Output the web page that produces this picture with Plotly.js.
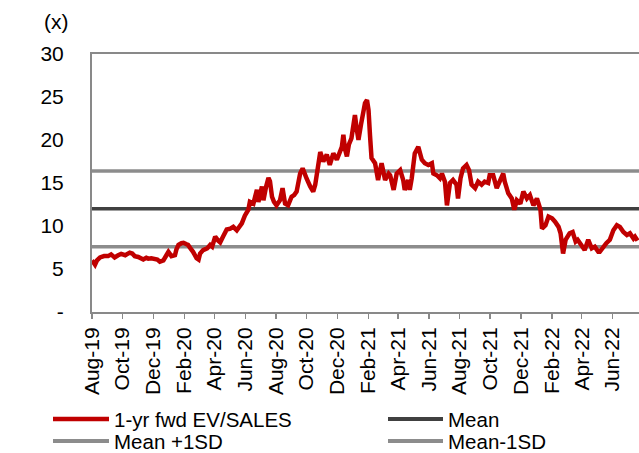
<!DOCTYPE html>
<html>
<head>
<meta charset="utf-8">
<script src="https://cdn.plot.ly/plotly-3.0.1.min.js"></script>
<style>html,body{margin:0;padding:0;background:#fff}#chart{width:639px;height:453px}</style>
</head>
<body>
<div id="chart"></div>
<script>
var dates = ['2019-08-01','2019-08-07','2019-08-11','2019-08-17','2019-08-25','2019-09-02','2019-09-08','2019-09-15','2019-09-22','2019-09-28',
'2019-10-06','2019-10-15','2019-10-20','2019-10-25','2019-11-01','2019-11-07','2019-11-11','2019-11-17','2019-11-21','2019-11-27',
'2019-12-04','2019-12-09','2019-12-14','2019-12-21','2019-12-27','2019-12-31','2020-01-06','2020-01-13','2020-01-16','2020-01-20',
'2020-01-26','2020-01-30','2020-02-04','2020-02-08','2020-02-14','2020-02-18','2020-02-25','2020-02-29','2020-03-03','2020-03-09',
'2020-03-17','2020-03-23','2020-03-27','2020-04-02','2020-04-08','2020-04-12','2020-04-18','2020-04-25','2020-05-02','2020-05-08',
'2020-05-15','2020-05-19','2020-05-25','2020-05-31','2020-06-07','2020-06-10','2020-06-17','2020-06-24','2020-06-27','2020-07-04',
'2020-07-07','2020-07-12','2020-07-17','2020-07-20','2020-07-24','2020-07-28','2020-08-02','2020-08-09','2020-08-14','2020-08-19',
'2020-08-25','2020-09-01','2020-09-06','2020-09-11','2020-09-14','2020-09-18','2020-09-23','2020-09-27','2020-10-01','2020-10-08',
'2020-10-14','2020-10-18','2020-10-21','2020-10-25','2020-10-28','2020-11-03','2020-11-10','2020-11-16','2020-11-23','2020-11-30',
'2020-12-04','2020-12-10','2020-12-13','2020-12-16','2020-12-20','2020-12-24','2020-12-29','2021-01-02','2021-01-05','2021-01-08',
'2021-01-12','2021-01-17','2021-01-22','2021-01-25','2021-01-29','2021-02-01','2021-02-04','2021-02-07','2021-02-14','2021-02-17',
'2021-02-20','2021-02-24','2021-02-27','2021-03-03','2021-03-06','2021-03-13','2021-03-16','2021-03-23','2021-03-29','2021-04-05',
'2021-04-11','2021-04-14','2021-04-21','2021-04-24','2021-04-28','2021-05-04','2021-05-11','2021-05-18','2021-05-24','2021-05-31',
'2021-06-07','2021-06-10','2021-06-17','2021-06-23','2021-06-27','2021-07-03','2021-07-07','2021-07-13','2021-07-19','2021-07-26',
'2021-07-29','2021-08-03','2021-08-08','2021-08-15','2021-08-20','2021-08-25','2021-09-01','2021-09-07','2021-09-14','2021-09-20',
'2021-09-27','2021-09-30','2021-10-07','2021-10-14','2021-10-20','2021-10-27','2021-10-30','2021-11-06','2021-11-13','2021-11-18',
'2021-11-23','2021-11-30','2021-12-06','2021-12-13','2021-12-19','2021-12-26','2022-01-02','2022-01-09','2022-01-12','2022-01-19',
'2022-01-25','2022-02-01','2022-02-07','2022-02-14','2022-02-18','2022-02-23','2022-02-28','2022-03-08','2022-03-14','2022-03-20',
'2022-03-24','2022-04-01','2022-04-07','2022-04-14','2022-04-21','2022-04-27','2022-05-04','2022-05-07','2022-05-14','2022-05-20',
'2022-05-27','2022-06-03','2022-06-10','2022-06-16','2022-06-23','2022-06-30','2022-07-06','2022-07-13','2022-07-16','2022-07-21'];

var evSales = [6.0,5.5,6.0,6.35,6.5,6.5,6.7,6.35,6.6,6.75,
6.6,6.9,6.8,6.5,6.4,6.2,6.1,6.3,6.2,6.25,
6.2,6.1,5.85,6.0,6.6,7.0,6.5,6.6,7.3,7.8,
8.0,8.05,7.9,7.8,7.3,7.0,6.25,6.1,6.8,7.2,
7.4,7.8,7.6,8.75,8.3,8.1,8.8,9.6,9.7,9.9,
9.5,9.9,10.3,11.2,11.9,12.8,12.6,14.2,12.8,14.6,
13.0,14.5,15.6,15.2,13.4,12.8,12.4,13.0,14.4,12.6,
12.4,13.4,13.6,14.0,15.2,16.1,16.7,16.0,15.5,14.6,
14.0,14.8,15.9,17.5,18.6,17.5,18.3,17.1,18.45,17.7,
18.2,19.2,20.6,19.0,18.1,19.5,20.2,21.8,22.9,21.5,
20.0,21.8,23.5,24.3,24.65,23.5,20.5,17.9,17.3,16.0,
15.35,16.5,17.3,16.2,15.35,16.1,15.9,14.2,16.1,16.5,
15.35,14.2,15.35,14.2,15.55,18.45,19.2,17.7,17.3,17.1,
17.3,16.1,15.9,15.55,16.1,15.15,12.4,15.0,15.35,14.8,
13.2,15.55,16.7,17.1,16.5,14.8,14.4,15.15,14.8,15.15,
15.0,15.9,15.9,14.4,15.15,16.1,15.15,13.8,13.2,11.9,
13.0,12.6,14.0,13.2,13.6,12.4,13.2,11.9,9.7,10.1,
11.1,10.9,10.5,9.9,9.15,6.8,8.4,9.15,9.3,8.2,
8.4,7.8,7.2,8.4,7.4,7.6,7.0,7.0,7.6,8.0,
8.4,9.5,10.1,9.9,9.3,8.95,9.15,8.55,8.75,8.3];

var meanValue = 12.0;
var plus1SD = 16.4;
var minus1SD = 7.6;
var bandDates = ['2019-08-01','2022-07-24'];

var seriesNames = ['1-yr fwd EV/SALES', 'Mean', 'Mean +1SD', 'Mean-1SD'];
var seriesColors = ['#C00000', '#404040', '#8C8C8C', '#8C8C8C'];

var xTickVals = ['2019-08-01','2019-10-01','2019-12-01','2020-02-01','2020-04-01','2020-06-01','2020-08-01','2020-10-01','2020-12-01',
'2021-02-01','2021-04-01','2021-06-01','2021-08-01','2021-10-01','2021-12-01','2022-02-01','2022-04-01','2022-06-01'];
var xTickText = ['Aug-19','Oct-19','Dec-19','Feb-20','Apr-20','Jun-20','Aug-20','Oct-20','Dec-20',
'Feb-21','Apr-21','Jun-21','Aug-21','Oct-21','Dec-21','Feb-22','Apr-22','Jun-22'];
var yTickVals = [0,5,10,15,20,25,30];
var yTickText = ['-','5','10','15','20','25','30'];

var FONT = 'Liberation Sans, Arial, sans-serif';
var W = 639, H = 453, ML = 92, MR = 0, MT = 54, MB = 141;
var PW = W - ML - MR, PH = H - MT - MB;
function px2x(px) { return (px - ML) / PW; }
function px2y(py) { return (H - MB - py) / PH; }

var traces = [
  {x: bandDates, y: [meanValue, meanValue], type: 'scatter', mode: 'lines', name: seriesNames[1],
   line: {color: seriesColors[1], width: 3.5}},
  {x: bandDates, y: [plus1SD, plus1SD], type: 'scatter', mode: 'lines', name: seriesNames[2],
   line: {color: seriesColors[2], width: 3.5}},
  {x: bandDates, y: [minus1SD, minus1SD], type: 'scatter', mode: 'lines', name: seriesNames[3],
   line: {color: seriesColors[3], width: 3.5}},
  {x: dates, y: evSales, type: 'scatter', mode: 'lines', name: seriesNames[0],
   line: {color: seriesColors[0], width: 4.5}}
];

// manual legend (2 columns x 2 rows)
var legendPos = [
  {lx0: 53, lx1: 109, tx: 113, y: 419, w: 4.5},
  {lx0: 388, lx1: 443, tx: 447, y: 419, w: 4},
  {lx0: 53, lx1: 109, tx: 113, y: 441, w: 4},
  {lx0: 388, lx1: 443, tx: 447, y: 441, w: 4}
];
var shapes = [], annotations = [];
legendPos.forEach(function(p, i) {
  shapes.push({type: 'line', xref: 'paper', yref: 'paper',
    x0: px2x(p.lx0), x1: px2x(p.lx1), y0: px2y(p.y), y1: px2y(p.y),
    line: {color: seriesColors[i], width: p.w}});
  annotations.push({text: seriesNames[i], xref: 'paper', yref: 'paper',
    x: px2x(p.tx), y: px2y(p.y), xanchor: 'left', yanchor: 'middle', showarrow: false,
    borderpad: 0, font: {family: FONT, size: 20.5, color: '#000'}});
});
annotations.push({text: '(x)', xref: 'paper', yref: 'paper', x: px2x(56), y: px2y(21),
  xanchor: 'center', yanchor: 'middle', showarrow: false,
  font: {family: FONT, size: 21, color: '#000'}});

var layout = {
  width: W, height: H,
  margin: {l: ML, r: MR, t: MT, b: MB},
  paper_bgcolor: '#fff', plot_bgcolor: '#fff',
  font: {family: FONT, size: 21, color: '#000'},
  showlegend: false,
  xaxis: {type: 'date', range: ['2019-08-01', '2022-07-24'], tickmode: 'array',
          tickvals: xTickVals, ticktext: xTickText, tickangle: -90,
          ticks: 'outside', ticklen: 5, tickwidth: 1.5, tickcolor: '#898989',
          showline: true, linecolor: '#898989', linewidth: 2, mirror: true,
          showgrid: false, zeroline: false, tickfont: {family: FONT, size: 21, color: '#000'}},
  yaxis: {range: [0, 30], tickmode: 'array', tickvals: yTickVals, ticktext: yTickText,
          ticks: '', showline: true, linecolor: '#898989', linewidth: 2,
          showgrid: false, zeroline: false, ticklabelstandoff: 22,
          tickfont: {family: FONT, size: 21, color: '#000'}},
  shapes: shapes,
  annotations: annotations
};

Plotly.newPlot('chart', traces, layout, {displayModeBar: false, staticPlot: true});
</script>
</body>
</html>
